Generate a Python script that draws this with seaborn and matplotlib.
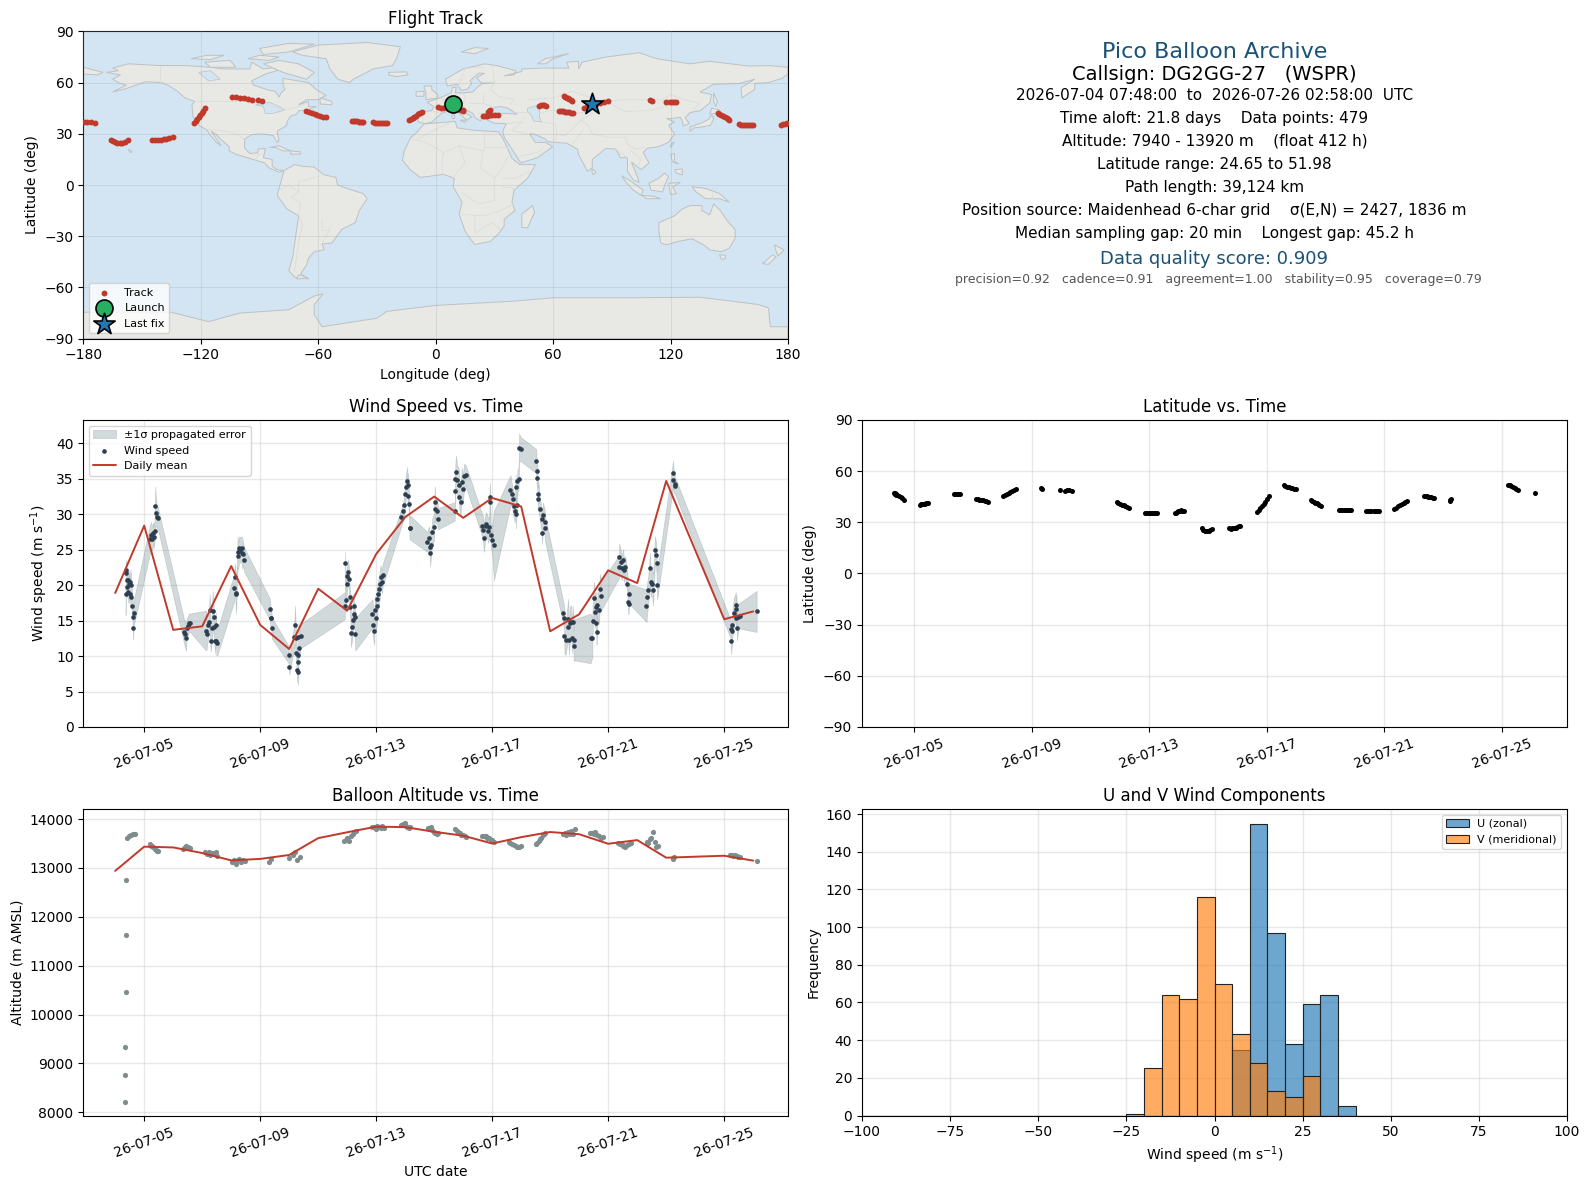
import numpy as np
import pandas as pd
import matplotlib
matplotlib.use("Agg")
import matplotlib.pyplot as plt
import matplotlib.dates as mdates
import seaborn as sns

# track fixes, one row per daylight burst (day of July 2026)
track_days = [
    4.33, 4.34, 4.35, 4.36, 4.37, 4.38, 4.42, 4.48, 4.54, 4.60, 4.67,
    5.20, 5.24, 5.28, 5.32, 5.36, 5.40, 5.45, 5.49,
    6.35, 6.40, 6.45, 6.50, 6.58,
    7.10, 7.16, 7.22, 7.28, 7.34, 7.40, 7.46, 7.52,
    8.04, 8.10, 8.16, 8.22, 8.28, 8.34, 8.40, 8.46,
    9.32, 9.36,
    9.98, 10.13, 10.20, 10.28, 10.38,
    11.89, 11.95, 12.01, 12.07, 12.13, 12.19, 12.25, 12.30,
    12.87, 12.93, 12.98, 13.04, 13.09, 13.15, 13.20, 13.26,
    13.87, 13.91, 13.95, 13.99, 14.03, 14.07, 14.12, 14.17,
    14.78, 14.83, 14.88, 14.93, 14.98, 15.03, 15.08, 15.14,
    15.72, 15.77, 15.83, 15.88, 15.94, 15.99, 16.05, 16.10,
    16.66, 16.72, 16.78, 16.83, 16.89, 16.95, 17.00, 17.06,
    17.57, 17.63, 17.69, 17.75, 17.81, 17.87, 17.94, 18.00,
    18.50, 18.55, 18.60, 18.64, 18.69, 18.74, 18.78, 18.83,
    19.44, 19.50, 19.56, 19.62, 19.68, 19.73, 19.79, 19.85,
    20.38, 20.44, 20.50, 20.56, 20.63, 20.69, 20.75, 20.81,
    21.34, 21.40, 21.46, 21.52, 21.59, 21.65, 21.71, 21.77,
    22.33, 22.38, 22.44, 22.49, 22.54, 22.60, 22.65, 22.70,
    23.22, 23.24, 23.26,
    25.21, 25.27, 25.32, 25.38, 25.43, 25.49, 25.55,
    26.12,
]
track_lat = [
    47.2, 47.0, 46.8, 46.6, 46.4, 46.2, 45.8, 45.2, 44.6, 44.0, 43.3,
    40.4, 40.5, 40.7, 40.9, 41.0, 41.1, 41.2, 41.3,
    46.4, 46.6, 46.7, 46.6, 46.5,
    43.6, 43.4, 43.2, 43.0, 42.9, 42.7, 42.4, 42.2,
    45.2, 45.8, 46.5, 47.0, 47.6, 48.2, 48.9, 49.5,
    49.9, 49.3,
    48.7, 48.6, 48.7, 48.7, 48.6,
    42.2, 41.6, 41.0, 40.4, 39.9, 39.3, 38.8, 38.3,
    35.5, 35.4, 35.4, 35.4, 35.4, 35.3, 35.4, 35.4,
    35.4, 35.7, 36.0, 36.4, 36.8, 37.0, 36.8, 36.4,
    26.6, 25.6, 25.0, 24.7, 24.7, 24.9, 25.4, 26.2,
    26.4, 26.3, 26.5, 26.6, 26.9, 27.2, 27.6, 28.0,
    36.3, 37.4, 38.6, 39.8, 41.0, 42.2, 43.6, 45.2,
    51.7, 51.3, 51.0, 50.7, 50.4, 50.1, 49.7, 49.3,
    43.2, 42.6, 42.0, 41.6, 41.1, 40.6, 40.1, 39.7,
    37.4, 37.4, 37.3, 37.3, 37.2, 37.2, 37.1, 37.1,
    36.7, 36.6, 36.6, 36.5, 36.5, 36.5, 36.4, 36.4,
    37.9, 38.6, 39.3, 40.0, 40.7, 41.4, 42.1, 42.8,
    45.6, 45.4, 45.2, 45.0, 44.8, 44.6, 44.4, 44.2,
    42.8, 43.2, 43.8,
    52.0, 51.6, 51.2, 50.8, 50.3, 49.8, 49.2,
    47.2,
]
track_lon = [
    9.0, 9.2, 9.4, 9.6, 9.8, 10.0, 10.5, 11.2, 12.0, 13.0, 14.0,
    24.0, 25.0, 26.0, 27.0, 28.0, 29.0, 30.5, 31.6,
    53.0, 53.8, 54.6, 55.4, 56.5,
    63.0, 64.0, 65.0, 66.0, 67.0, 68.0, 69.0, 70.0,
    76.0, 77.5, 79.0, 80.5, 82.0, 84.0, 86.0, 88.0,
    109.6, 110.4,
    117.8, 119.8, 120.8, 122.0, 123.0,
    144.0, 145.0, 146.0, 147.0, 147.8, 148.6, 149.4, 150.0,
    155.0, 156.0, 157.0, 158.0, 159.0, 160.0, 161.0, 162.0,
    176.5, 177.5, 178.5, 179.5, -179.5, -178.0, -176.0, -174.0,
    -166.0, -165.0, -164.0, -163.0, -161.5, -160.0, -158.5, -157.0,
    -145.0, -143.5, -142.0, -140.5, -139.0, -137.5, -136.0, -134.0,
    -123.4, -122.6, -121.8, -121.0, -120.3, -119.6, -118.8, -118.0,
    -104.0, -102.0, -100.0, -98.0, -96.0, -94.0, -91.0, -88.5,
    -66.0, -64.6, -63.2, -61.8, -60.4, -59.0, -57.5, -56.0,
    -42.6, -41.8, -41.0, -40.2, -39.4, -38.6, -37.8, -37.0,
    -32.0, -31.0, -30.0, -29.0, -28.0, -27.0, -26.0, -25.0,
    -13.6, -12.7, -11.8, -10.9, -10.0, -9.0, -8.0, -7.0,
    1.0, 2.5, 4.0, 6.0, 8.0, 10.0, 12.0, 14.0,
    26.5, 27.0, 27.6,
    65.6, 66.2, 66.9, 67.6, 68.2, 68.9, 69.6,
    80.0,
]
track_alt = [
    8220, 8760, 9340, 10470, 11630, 12760, 13620, 13660, 13680, 13700, 13700,
    13490, 13450, 13440, 13420, 13390, 13370, 13350, 13340,
    13390, 13420, 13440, 13430, 13400,
    13320, 13290, 13320, 13270, 13310, 13280, 13330, 13250,
    13130, 13170, 13080, 13160, 13190, 13120, 13170, 13140,
    13130, 13190,
    13210, 13260, 13320, 13170, 13230,
    13560, 13580, 13620, 13560, 13660, 13700, 13740, 13760,
    13840, 13830, 13800, 13850, 13830, 13820, 13860, 13810,
    13870, 13900, 13880, 13920, 13860, 13830, 13820, 13840,
    13810, 13790, 13830, 13780, 13740, 13720, 13690, 13710,
    13790, 13760, 13730, 13720, 13680, 13680, 13650, 13640,
    13650, 13660, 13650, 13620, 13610, 13570, 13580, 13540,
    13540, 13510, 13500, 13470, 13440, 13430, 13420, 13440,
    13480, 13520, 13560, 13590, 13620, 13670, 13690, 13710,
    13690, 13720, 13680, 13730, 13700, 13760, 13700, 13790,
    13710, 13720, 13690, 13740, 13680, 13650, 13620, 13630,
    13520, 13500, 13480, 13450, 13430, 13470, 13490, 13510,
    13540, 13520, 13590, 13620, 13740, 13540, 13420, 13450,
    13180, 13200, 13230,
    13270, 13260, 13250, 13260, 13240, 13220, 13230,
    13140,
]

# wind speed samples and their propagated error
wind_days = [
    4.36, 4.37, 4.38, 4.39, 4.41, 4.43, 4.45, 4.47, 4.50, 4.52, 4.54, 4.56, 4.59, 4.61, 4.62, 4.64,
    5.20, 5.24, 5.28, 5.31, 5.33, 5.36, 5.38, 5.41, 5.44, 5.47,
    6.38, 6.41, 6.44, 6.46, 6.50, 6.54, 6.58,
    7.13, 7.15, 7.21, 7.23, 7.26, 7.29, 7.33, 7.36, 7.39, 7.41, 7.44, 7.47, 7.49, 7.52,
    8.10, 8.13, 8.16, 8.18, 8.22, 8.24, 8.28, 8.32, 8.36, 8.38, 8.41, 8.45,
    9.33, 9.36, 9.38, 9.40,
    9.98, 10.00, 10.17, 10.20, 10.22, 10.25, 10.28, 10.29, 10.30, 10.31, 10.32, 10.34, 10.39,
    11.92, 11.93, 11.95, 11.98, 12.00, 12.03, 12.06, 12.08, 12.11, 12.13, 12.17, 12.20, 12.22, 12.23, 12.26, 12.28,
    12.87, 12.90, 12.93, 12.95, 12.99, 13.03, 13.04, 13.07, 13.10, 13.13, 13.15, 13.20, 13.22,
    13.87, 13.93, 13.97, 14.00, 14.02, 14.07, 14.09, 14.10, 14.13, 14.15, 14.18,
    14.76, 14.82, 14.85, 14.86, 14.89, 14.93, 14.99, 15.02, 15.03, 15.10, 15.14,
    15.71, 15.72, 15.73, 15.75, 15.79, 15.85, 15.87, 15.91, 15.95, 15.99, 16.03, 16.08,
    16.66, 16.69, 16.71, 16.77, 16.80, 16.86, 16.90, 16.91, 16.92, 16.95, 17.00, 17.06,
    17.63, 17.67, 17.70, 17.75, 17.78, 17.81, 17.82, 17.84, 17.87, 17.91, 17.93, 17.98,
    18.52, 18.53, 18.56, 18.57, 18.59, 18.64, 18.70, 18.72, 18.75, 18.81, 18.82,
    19.45, 19.48, 19.49, 19.53, 19.62, 19.63, 19.65, 19.68, 19.73, 19.76, 19.79, 19.81, 19.83,
    20.39, 20.45, 20.46, 20.51, 20.54, 20.57, 20.59, 20.60, 20.63, 20.68, 20.72, 20.76,
    21.37, 21.38, 21.43, 21.46, 21.52, 21.54, 21.59, 21.66, 21.69, 21.70, 21.72,
    22.32, 22.35, 22.38, 22.44, 22.46, 22.52, 22.55, 22.61, 22.65, 22.67, 22.69,
    23.24, 23.25, 23.29, 23.31,
    25.22, 25.24, 25.27, 25.28, 25.33, 25.40, 25.41, 25.42, 25.44, 25.48, 25.53,
    26.12,
]
wind_speed = [
    18.7, 21.7, 22.1, 20.7, 19.8, 20.8, 19.1, 20.2, 18.8, 20.5, 20.0, 18.4, 17.1, 15.5, 14.0, 16.1,
    26.5, 27.1, 26.5, 27.4, 26.8, 27.7, 31.1, 30.2, 29.6, 29.5,
    13.4, 13.1, 12.5, 13.9, 14.2, 14.7, 14.7,
    13.6, 13.1, 14.4, 14.8, 16.5, 12.2, 13.9, 16.3, 15.5, 14.1, 12.2, 14.4, 12.1, 11.9,
    19.6, 21.2, 18.8, 18.9, 24.7, 24.1, 25.2, 24.9, 25.3, 24.5, 24.4, 23.6,
    16.6, 15.4, 15.4, 14.0,
    10.2, 8.5, 12.7, 14.4, 12.5, 10.4, 8.0, 7.8, 10.2, 9.2, 12.7, 11.2, 12.8,
    17.1, 23.2, 17.9, 20.2, 21.3, 21.9, 20.9, 18.4, 16.9, 13.2, 14.1, 15.1, 17.1, 16.0, 15.5, 13.1,
    16.0, 14.4, 13.6, 16.5, 15.4, 17.1, 18.1, 18.8, 19.5, 20.2, 21.2, 20.5, 21.4,
    29.6, 30.4, 31.3, 32.9, 33.9, 34.7, 32.6, 34.1, 31.5, 28.0, 28.1,
    26.1, 26.7, 25.4, 24.5, 25.7, 27.5, 28.2, 31.8, 30.8, 30.4, 29.4,
    30.4, 33.3, 35.0, 36.0, 34.8, 34.1, 32.5, 31.8, 34.6, 33.6, 35.4, 35.5,
    28.4, 27.8, 26.7, 28.4, 28.7, 27.7, 28.2, 31.8, 32.4, 27.1, 26.4, 25.6,
    33.4, 32.8, 32.2, 31.1, 30.4, 33.8, 30.0, 31.3, 34.7, 35.0, 39.4, 39.2,
    37.5, 36.1, 35.1, 32.1, 32.9, 30.8, 29.3, 27.4, 29.9, 28.9, 28.0,
    16.1, 15.4, 12.8, 12.3, 15.3, 14.1, 12.3, 14.6, 14.8, 12.5, 14.8, 11.4, 12.3,
    12.5, 12.6, 15.0, 18.2, 16.2, 16.9, 14.6, 13.4, 17.2, 16.5, 19.4, 18.5,
    22.6, 24.0, 23.3, 22.4, 23.5, 22.1, 22.6, 20.1, 17.6, 17.3, 18.8,
    17.1, 18.4, 19.3, 22.4, 20.5, 20.2, 19.3, 25.0, 24.3, 23.1, 20.0,
    35.8, 34.9, 34.3, 34.0,
    13.8, 12.2, 13.6, 14.4, 16.1, 17.2, 15.4, 16.7, 14.0, 15.5, 15.7,
    16.3,
]
wind_sigma = [
    2.9, 1.7, 1.4, 1.6, 1.5, 1.6, 1.6, 1.8, 1.6, 1.7, 1.8, 1.6, 1.7, 1.8, 1.6, 1.8,
    2.0, 1.8, 1.6, 1.5, 1.5, 1.5, 2.8, 1.8, 1.6, 1.5,
    1.7, 1.9, 1.8, 1.4, 1.3, 1.3, 1.3,
    2.8, 2.2, 1.7, 1.6, 2.3, 1.6, 2.0, 2.9, 1.8, 1.7, 1.8, 1.8, 2.0, 1.8,
    1.9, 1.9, 2.8, 1.7, 2.2, 1.9, 1.7, 1.8, 1.6, 2.2, 1.7, 1.7,
    1.5, 1.5, 1.5, 1.5,
    1.2, 1.1, 1.6, 2.7, 2.4, 1.6, 1.6, 1.5, 1.7, 3.2, 2.0, 1.5, 1.7,
    1.9, 1.5, 1.7, 1.8, 1.8, 1.7, 1.6, 1.7, 1.8, 1.9, 1.8, 1.7, 1.8, 1.7, 1.8, 2.3,
    2.0, 2.0, 2.0, 2.0, 2.0, 2.2, 2.0, 1.9, 2.0, 2.0, 1.6, 1.6, 1.6,
    1.2, 1.3, 1.4, 1.5, 1.6, 2.0, 1.5, 1.7, 1.6, 1.5, 1.7,
    1.4, 1.6, 1.9, 1.8, 1.7, 1.8, 1.9, 2.1, 1.9, 1.8, 1.5,
    1.3, 2.0, 2.2, 2.3, 2.1, 2.3, 2.0, 1.9, 2.0, 1.9, 1.7, 1.5,
    1.6, 1.8, 2.0, 1.7, 1.6, 1.7, 1.6, 1.8, 2.0, 1.6, 2.0, 4.9,
    2.1, 1.7, 1.6, 1.7, 1.6, 1.8, 2.0, 1.5, 1.6, 1.6, 2.0, 1.7,
    1.7, 1.8, 1.8, 1.7, 1.8, 1.7, 1.6, 1.6, 1.8, 1.8, 1.8,
    1.6, 1.7, 2.5, 2.1, 2.8, 2.6, 2.0, 2.4, 2.3, 2.1, 2.3, 2.1, 2.9,
    3.5, 2.8, 2.0, 2.3, 2.2, 2.2, 1.8, 1.8, 2.0, 1.9, 2.2, 2.0,
    1.6, 1.9, 1.8, 1.7, 1.6, 1.7, 1.5, 1.5, 1.4, 1.4, 1.4,
    2.3, 2.1, 2.0, 2.2, 2.0, 1.9, 2.2, 1.9, 1.8, 1.8, 2.0,
    1.8, 1.7, 1.4, 1.2,
    1.3, 1.9, 1.7, 1.8, 2.1, 1.8, 1.7, 1.9, 1.8, 1.8, 1.8,
    2.9,
]

# daily means, no samples on the 24th
mean_days = [4, 5, 6, 7, 8, 9, 10, 11, 12, 13, 14, 15, 16, 17, 18, 19, 20, 21, 22, 23, 25, 26]
mean_wind = [18.9, 28.4, 13.7, 14.2, 22.7, 14.4, 11.0, 19.5, 16.4, 24.4, 29.6,
             32.5, 29.5, 32.3, 31.1, 13.5, 15.9, 22.1, 20.3, 34.7, 15.2, 16.3]
mean_alt = [12940, 13435, 13420, 13305, 13155, 13185, 13265, 13610, 13730, 13845, 13835,
            13740, 13660, 13500, 13630, 13735, 13690, 13495, 13570, 13210, 13250, 13150]

# histogram counts per 5 m/s bin
u_bins = [7.5, 12.5, 17.5, 22.5, 27.5, 32.5, 37.5]
u_counts = [35, 155, 97, 38, 59, 64, 5]
v_bins = [-22.5, -17.5, -12.5, -7.5, -2.5, 2.5, 7.5, 12.5, 17.5, 22.5, 27.5]
v_counts = [1, 25, 64, 62, 116, 70, 43, 28, 13, 10, 21]

# rough coastlines (lon, lat)
north_america = [(-168, 66), (-162, 67), (-165, 68.5), (-157, 71), (-141, 70), (-128, 70), (-115, 69), (-108, 68),
                 (-95, 68), (-94, 72), (-88, 68), (-82, 69), (-81, 67), (-87, 65), (-94, 61), (-93, 58.5), (-85, 55.5),
                 (-82, 55), (-80, 51.5), (-79, 54), (-77, 56), (-78, 58.5), (-78, 62.5), (-70, 61), (-65, 60),
                 (-61, 56), (-56, 52.5), (-60, 50), (-66, 50), (-70, 47), (-65, 49), (-65, 46), (-61, 46), (-66, 44),
                 (-70, 43.5), (-71, 41.5), (-74, 40.5), (-76, 37), (-76, 35), (-81, 31.5), (-80, 26), (-81, 25),
                 (-83, 29), (-89, 30), (-94, 29.5), (-97.5, 27), (-97.7, 22), (-95, 18.5), (-91, 18.8), (-90.5, 21),
                 (-87, 21.5), (-88, 16), (-83.5, 15), (-83.5, 11), (-81, 9), (-77.5, 8.5), (-80, 7.5), (-85, 10),
                 (-87.5, 13), (-92, 14.5), (-96, 16), (-102, 18), (-105.5, 20), (-105.5, 22.5), (-109, 26),
                 (-112.5, 30), (-114.7, 31.5), (-112, 27), (-109.5, 23), (-112, 25), (-115, 29), (-117, 32.5),
                 (-120.5, 34.5), (-124, 40), (-124.5, 47), (-123, 49), (-128, 51), (-132, 55), (-136, 58), (-140, 60),
                 (-148, 60.5), (-152, 59), (-158, 56.5), (-165, 54.5), (-158, 58.5), (-162, 60), (-165, 62),
                 (-161, 64.5)]
south_america = [(-77.5, 8.5), (-72, 12), (-68, 11), (-62, 10.5), (-57, 6), (-51, 4.5), (-50, 0), (-44, -2.5),
                 (-37, -5), (-35, -8), (-39, -15), (-41, -22), (-48, -26), (-53, -34), (-58, -34.5), (-57, -38),
                 (-62, -39), (-65, -43), (-66, -47), (-69, -52), (-65, -55), (-72, -54), (-75, -50), (-73, -42),
                 (-71.5, -30), (-70, -18), (-76, -14), (-81, -6), (-80, -2), (-79, 2)]
africa = [(-6, 35.8), (10, 37.3), (11, 33.5), (20, 32), (25, 31.7), (32, 31.2), (34, 28), (37, 21), (39, 15.5),
          (43, 12), (51, 12), (47, 4), (40, -3), (39, -10), (40.5, -15), (35, -20), (35, -24), (32.5, -28), (28, -33),
          (20, -34.8), (18, -32), (15, -27), (12, -17), (13.5, -10), (9, -1), (9.5, 4), (4, 6.3), (-4, 5), (-8, 4.5),
          (-13, 9), (-17, 14.5), (-16, 20), (-13, 27.5), (-9.5, 31)]
eurasia = [(-9, 37), (-9.5, 43), (-2, 43.5), (-1, 46), (-4.5, 48.5), (2, 51), (8, 54), (8.5, 57), (10.5, 57.5),
           (10, 54), (14, 54), (19, 54.5), (21, 57), (24, 59.5), (30, 60), (23, 60), (21, 63), (25, 65.5), (22, 65.5),
           (17.5, 61), (18.5, 59.5), (16, 56), (13, 55.5), (11, 59), (6, 58), (5, 62), (14, 68), (25, 71), (31, 70),
           (41, 67), (40, 64.5), (35, 64), (44, 66.5), (44, 68), (54, 68.5), (68, 68.5), (67, 72), (73, 72.5), (73, 68),
           (75, 72), (87, 75), (104, 77.5), (113, 74), (130, 71), (140, 72.5), (160, 69.7), (170, 70), (180, 69),
           (180, 65), (177, 62.5), (170, 60), (163, 59.5), (163, 56), (156.5, 51), (156, 57), (163, 62), (155, 59.5),
           (142, 59), (135, 54.5), (141, 53), (140, 48), (135, 43.5), (130, 42.5), (127.5, 39.5), (129.5, 36),
           (126.5, 34.5), (126, 37.5), (125, 39.7), (121, 39), (118, 39), (122, 37), (119, 35), (122, 30), (119, 25),
           (114, 22.5), (108, 21.5), (106, 19), (109, 13), (105, 9), (100, 13.5), (103, 5), (104, 1.5), (101, 3),
           (98, 8), (98, 16), (94.5, 16), (92, 21), (87, 21.5), (80, 15), (80, 10), (77.5, 8), (73, 18), (72.5, 21),
           (67, 24.5), (61, 25), (57, 25.5), (56, 27), (50, 30), (48, 30), (51, 25), (56, 25), (59.8, 22.5), (52, 16),
           (43.5, 13), (39, 21), (35, 28), (34.3, 31.5), (36, 36), (30, 36.2), (26.5, 38), (26.5, 40), (29, 41),
           (35, 42), (41.5, 41.5), (37, 45), (33, 46), (30, 45.5), (28, 41.8), (24, 40.8), (23, 37.5), (20, 39.5),
           (19, 42), (14, 45), (12.5, 44), (18.5, 40), (16, 38), (10.5, 43.5), (6, 43.2), (3, 42), (0, 39), (-2, 36.8),
           (-5.5, 36)]
chukotka = [(-180, 69), (-170, 66), (-173, 64.5), (-180, 65)]
greenland = [(-73, 78), (-60, 82), (-35, 83.5), (-18, 81), (-20, 74), (-22, 70), (-32, 68), (-42, 62), (-44, 60),
             (-50, 62), (-54, 68), (-56, 74), (-68, 76)]
australia = [(114, -22), (122, -18), (126, -14), (130, -12), (136, -12), (136, -15), (140, -17.5), (142, -11),
             (145.5, -15), (149, -21), (153, -26), (153, -31), (150, -37), (146, -39), (140, -38), (137, -35),
             (131, -31.5), (124, -33), (118, -35), (115, -34), (114, -27)]
antarctica = [(-180, -74.5), (-135, -74.5), (-116, -80), (-100, -75), (-75, -73), (-62, -65), (-57.5, -63.7), (-62, -70),
              (-62, -76), (-58, -83), (-30, -78), (-25, -74), (0, -70.5), (40, -68), (60, -66), (100, -66), (135, -65.7),
              (165, -70), (170, -72), (171, -83), (180, -83), (180, -90), (-180, -90)]
islands = [
    [(-80, 73), (-70, 71), (-62, 66), (-66, 62), (-72, 64), (-78, 66), (-88, 71)],  # Baffin
    [(-90, 80), (-75, 83), (-62, 82.5), (-75, 78), (-88, 76.5)],  # Ellesmere
    [(-118, 72), (-105, 73), (-102, 69), (-115, 69)],  # Victoria
    [(-125, 74), (-117, 76), (-108, 76), (-115, 73.5)],
    [(-96, 74), (-90, 76), (-80, 75), (-85, 73)],
    [(-59, 51), (-53, 49), (-53, 47), (-59, 47.5)],  # Newfoundland
    [(-24, 66), (-15, 66.3), (-14, 64.5), (-20, 63.5), (-24, 64.5)],  # Iceland
    [(-5, 50), (1, 51), (1, 53), (-2, 56), (-2, 58), (-6, 58), (-5, 54), (-5, 52)],  # Britain
    [(-10, 52), (-6, 52), (-6, 55), (-10, 54.5)],  # Ireland
    [(13, 78), (20, 80.5), (27, 80), (20, 77)],  # Svalbard
    [(52, 71), (56, 74), (68, 77), (60, 74), (56, 71)],  # Novaya Zemlya
    [(142, 54), (144, 49), (143, 46), (142, 49)],  # Sakhalin
    [(141, 45), (145, 44), (143, 42), (140, 41.5)],  # Hokkaido
    [(141, 41), (142, 39), (140.5, 35), (136, 34), (132, 33.5), (130, 31.5), (130, 34), (136, 36.5), (139.5, 38.5)],  # Honshu
    [(120, 22), (122, 25), (121, 25), (120, 23)],  # Taiwan
    [(80, 9.5), (82, 7.5), (80.5, 6), (79.8, 8)],  # Sri Lanka
    [(95, 5.5), (100, 2), (106, -3), (105, -6), (101, -3), (97, 2)],  # Sumatra
    [(105, -6), (111, -6.5), (115, -8), (108, -8)],  # Java
    [(109, 1), (114, 4), (117, 7), (119, 5), (117, 0), (116, -4), (110, -3)],  # Borneo
    [(119, 1), (125, 1.5), (121, -1), (123, -5), (120, -5.5)],  # Sulawesi
    [(120, 18), (122, 18.5), (122, 14), (124, 12.5), (121, 13.5)],  # Luzon
    [(122, 9), (126, 9.5), (126, 6), (123, 7)],  # Mindanao
    [(131, -1), (138, -2), (145, -5), (150, -10), (145, -8), (138, -8), (133, -4)],  # New Guinea
    [(145, -41), (148, -41), (148, -43), (146, -43.5)],  # Tasmania
    [(173, -35), (178, -38), (175, -41.5), (174, -39)],  # NZ north
    [(172, -41), (174, -42), (170, -46.5), (167, -46)],  # NZ south
    [(49.5, -12), (50.5, -16), (47, -25), (44, -25), (44, -17)],  # Madagascar
    [(-85, 22), (-80, 23), (-74, 20), (-78, 20), (-82, 22)],  # Cuba
    [(-74, 20), (-69, 19.5), (-69, 18.3), (-74, 18)],  # Hispaniola
    [(-157, 21), (-155.5, 20), (-155, 19.5), (-156, 19)],  # Hawaii
    [(-70, -52.5), (-65, -54.5), (-71, -55)],  # Tierra del Fuego
    [(8.3, 41), (9.7, 41), (9.6, 39), (8.5, 39)],  # Sardinia
    [(12.5, 38), (15.5, 38), (15, 36.7)],  # Sicily
]
caspian = [(47, 45), (53, 47), (53, 40), (54, 37), (50, 37.5), (49, 40.5), (47, 43)]
lakes = [[(-92, 47), (-85, 48.5), (-80, 46), (-77, 44), (-83, 42), (-87, 42), (-88, 46)],
         [(-121, 66), (-115, 67), (-110, 62), (-116, 61)]]
borders = [
    [(-141, 70), (-141, 60)], [(-123, 49), (-95, 49), (-88, 48), (-83, 46), (-76, 44), (-70, 46), (-67, 47)],
    [(-117, 32.5), (-106, 31.5), (-101, 29.5), (-97.5, 26)], [(-92, 14.5), (-91, 17.5), (-89, 18)],
    [(-70, -18), (-68, -23), (-70, -33), (-72, -50)], [(-70, -18), (-69, -11), (-74, -7), (-70, -4), (-70, 2), (-60, 5)],
    [(-58, -20), (-58, -27), (-54, -26), (-58, -34)], [(-80, -3), (-75, 0), (-70, -4)],
    [(-9, 27), (-1, 32), (8, 37)], [(-13, 27), (-5, 25), (4, 19), (12, 23), (25, 20), (25, 31.7)],
    [(25, 22), (37, 22)], [(4, 19), (3, 12), (4, 6)], [(12, 23), (15, 13), (9, 4.5)], [(24, 20), (23, 10), (30, 4), (34, 10), (37, 17)],
    [(14, -5), (22, -11), (30, -9), (30, 4)], [(12, -17), (25, -18), (33, -15), (40, -11)], [(20, -18), (20, -28), (29, -22), (33, -26)],
    [(34, -1), (41, -2)], [(34, 4), (41, 4), (48, 8)],
    [(-1, 43), (3, 42.5)], [(-7, 37), (-7, 42)], [(2, 51), (8, 48), (7, 44)], [(7, 54), (7, 48), (14, 48), (15, 51), (14, 54)],
    [(24, 54), (24, 48), (17, 48)], [(24, 48), (30, 45.5)], [(21, 42), (28, 42)], [(24, 60), (30, 60), (29, 70)], [(12, 59), (15, 68), (20, 69), (25, 69)],
    [(30, 60), (28, 56), (32, 52), (40, 50), (38, 47)], [(47, 43), (40, 43)], [(47, 50), (60, 51), (70, 55), (80, 51), (87, 49), (97, 50), (107, 50), (116, 50), (120, 53), (127, 50), (135, 48), (131, 43)],
    [(53, 42), (60, 44), (70, 42), (80, 43), (80, 42), (74, 38)], [(87, 49), (97, 43), (111, 44), (120, 47), (116, 50)],
    [(74, 38), (78, 35), (80, 30), (88, 28), (97, 28), (98, 24), (102, 21), (107, 22)], [(61, 25), (62, 30), (61, 36), (53, 37)], [(74, 38), (70, 33), (66, 29), (61, 30)], [(70, 24), (75, 32)],
    [(44, 37), (39, 32), (48, 29.5)], [(36, 36), (44, 37), (45, 39)], [(43.5, 17), (52, 19), (55, 22)], [(92, 21), (98, 16)], [(100, 20), (105, 15), (103, 11)], [(141, -2), (141, -9)],
]

# info panel text
pico_title = "Pico Balloon Archive"
callsign_line = "Callsign: DG2GG-27   (WSPR)"
info_lines = ["2026-07-04 07:48:00  to  2026-07-26 02:58:00  UTC",
              "Time aloft: 21.8 days    Data points: 479",
              "Altitude: 7940 - 13920 m    (float 412 h)",
              "Latitude range: 24.65 to 51.98",
              "Path length: 39,124 km",
              "Position source: Maidenhead 6-char grid    \u03c3(E,N) = 2427, 1836 m",
              "Median sampling gap: 20 min    Longest gap: 45.2 h"]
score_line = "Data quality score: 0.909"
score_detail = "precision=0.92   cadence=0.91   agreement=1.00   stability=0.95   coverage=0.79"

sns.set_theme(style="ticks", rc={
    "font.size": 10, "axes.titlesize": 12, "axes.labelsize": 10,
    "xtick.labelsize": 10, "ytick.labelsize": 10, "legend.fontsize": 8,
    "axes.edgecolor": "black", "axes.linewidth": 0.8, "xtick.color": "black", "ytick.color": "black",
    "xtick.major.width": 0.8, "ytick.major.width": 0.8, "xtick.major.size": 3.5, "ytick.major.size": 3.5,
    "text.color": "black", "axes.labelcolor": "black",
})
plt.rcParams["font.family"] = ["DejaVu Sans"]

W, H = 1590, 1189
fig = plt.figure(figsize=(W / 100, H / 100), dpi=100)


def px_axes(left, top, right, bottom):
    return fig.add_axes([left / W, 1 - bottom / H, (right - left) / W, (bottom - top) / H])


def to_dates(days):
    return pd.Timestamp("2026-07-01") + pd.to_timedelta(np.asarray(days) - 1, unit="D")


def date_axis(ax, left, right):
    ax.set_xlim(to_dates([left])[0], to_dates([right])[0])
    ax.set_xticks(to_dates([5, 9, 13, 17, 21, 25]))
    ax.xaxis.set_major_formatter(mdates.DateFormatter("%y-%m-%d"))
    ax.tick_params(axis="x", labelrotation=20)
    ax.grid(True, alpha=0.45)
    ax.set_xlabel("")


ocean = "#d3e5f2"
land = "#e8e8e4"
coast = "#bcc2c4"
red = "#c0392b"

# map
ax_map = px_axes(83.3, 31.4, 788, 338.7)
ax_map.set_facecolor(ocean)
for poly in [north_america, south_america, africa, eurasia, chukotka, greenland, australia, antarctica] + islands:
    xs, ys = zip(*poly)
    ax_map.fill(xs, ys, facecolor=land, edgecolor=coast, lw=0.7, zorder=1)
for poly in [caspian] + lakes:
    xs, ys = zip(*poly)
    ax_map.fill(xs, ys, facecolor=ocean, edgecolor=coast, lw=0.5, zorder=1.1)
for line in borders:
    xs, ys = zip(*line)
    ax_map.plot(xs, ys, color="#dcdcd8", lw=0.6, zorder=1.2)
sns.scatterplot(x=track_lon, y=track_lat, s=18, color=red, linewidth=0, label="Track", ax=ax_map, zorder=3)
sns.scatterplot(x=track_lon[:1], y=track_lat[:1], s=150, color="#27ae60", edgecolor="black", linewidth=1.2,
                label="Launch", ax=ax_map, zorder=4)
sns.scatterplot(x=track_lon[-1:], y=track_lat[-1:], s=260, marker="*", color="#1f77b4", edgecolor="black", linewidth=1.2,
                label="Last fix", ax=ax_map, zorder=4)
ax_map.set_xlim(-180, 180)
ax_map.set_ylim(-90, 90)
ax_map.set_xticks(range(-180, 181, 60))
ax_map.set_yticks(range(-90, 91, 30))
ax_map.set_xticklabels(["\u2212180", "\u2212120", "\u221260", "0", "60", "120", "180"])
ax_map.set_yticklabels(["\u221290", "\u221260", "\u221230", "0", "30", "60", "90"])
ax_map.grid(True, color="#9aa5ab", alpha=0.25, lw=0.7, zorder=2)
ax_map.set_axisbelow(False)
ax_map.set_xlabel("Longitude (deg)")
ax_map.set_ylabel("Latitude (deg)")
ax_map.set_title("Flight Track", pad=5)
ax_map.legend(loc="lower left", fontsize=8)

# info text
ax_info = px_axes(862, 0, 1567, 338.7)
ax_info.axis("off")
ax_info.set_xlim(0, 1)
ax_info.set_ylim(338.7, 0)
ax_info.text(0.5, 52, pico_title, ha="center", va="center", fontsize=16, color="#1a5276")
ax_info.text(0.5, 74.5, callsign_line, ha="center", va="center", fontsize=14)
for y_txt, line in zip([95.5, 118.5, 141, 164, 187.5, 210, 233.5], info_lines):
    ax_info.text(0.5, y_txt, line, ha="center", va="center", fontsize=11)
ax_info.text(0.5, 258.5, score_line, ha="center", va="center", fontsize=13, color="#1a5276")
ax_info.text(0.506, 279, score_detail, ha="center", va="center", fontsize=9, color="#555555")

# wind
wind_dates = to_dates(wind_days)
lower = np.array(wind_speed) - np.array(wind_sigma)
upper = np.array(wind_speed) + np.array(wind_sigma)
ax_wind = px_axes(83.3, 420, 788, 727)
ax_wind.fill_between(wind_dates, lower, upper, color="#7f9296", alpha=0.35, linewidth=0.5, label="\u00b11\u03c3 propagated error")
sns.scatterplot(x=wind_dates, y=wind_speed, s=11, color="#2c3e50", linewidth=0, label="Wind speed", ax=ax_wind, zorder=3)
sns.lineplot(x=to_dates(mean_days), y=mean_wind, estimator=None, color=red, lw=1.4, label="Daily mean", ax=ax_wind, zorder=4)
date_axis(ax_wind, 2.9, 27.2)
ax_wind.set_ylim(0, 43.3)
ax_wind.set_yticks(range(0, 41, 5))
ax_wind.set_ylabel("Wind speed (m s$^{-1}$)")
ax_wind.set_title("Wind Speed vs. Time")
ax_wind.legend(loc="upper left", fontsize=8)

# latitude
track_dates = to_dates(track_days)
ax_lat = px_axes(862, 420, 1567, 727)
sns.scatterplot(x=track_dates, y=track_lat, s=13, color="black", linewidth=0, ax=ax_lat)
date_axis(ax_lat, 3.23, 27.21)
ax_lat.set_ylim(-90, 90)
ax_lat.set_yticks(range(-90, 91, 30))
ax_lat.set_yticklabels(["\u221290", "\u221260", "\u221230", "0", "30", "60", "90"])
ax_lat.set_ylabel("Latitude (deg)")
ax_lat.set_title("Latitude vs. Time")

# altitude
ax_alt = px_axes(83.3, 809, 788, 1115.5)
sns.scatterplot(x=track_dates, y=track_alt, s=14, color="#7f8c8d", linewidth=0, ax=ax_alt)
sns.lineplot(x=to_dates(mean_days), y=mean_alt, estimator=None, color=red, lw=1.4, ax=ax_alt, zorder=4)
date_axis(ax_alt, 2.9, 27.2)
ax_alt.set_ylim(7936, 14206)
ax_alt.set_yticks(range(8000, 14001, 1000))
ax_alt.set_xlabel("UTC date")
ax_alt.set_ylabel("Altitude (m AMSL)")
ax_alt.set_title("Balloon Altitude vs. Time")

# u/v histogram
edges = list(range(-100, 105, 5))
ax_hist = px_axes(862, 809, 1567, 1115.5)
sns.histplot(x=u_bins, weights=u_counts, bins=edges, color="#1f77b4", alpha=0.65, edgecolor="#222222", linewidth=0.8,
             label="U (zonal)", ax=ax_hist)
sns.histplot(x=v_bins, weights=v_counts, bins=edges, color="#ff7f0e", alpha=0.65, edgecolor="#222222", linewidth=0.8,
             label="V (meridional)", ax=ax_hist)
ax_hist.set_xlim(-100, 100)
ax_hist.set_ylim(0, 162.7)
ax_hist.set_xticks(range(-100, 101, 25))
ax_hist.set_xticklabels(["\u2212100", "\u221275", "\u221250", "\u221225", "0", "25", "50", "75", "100"])
ax_hist.grid(True, alpha=0.45)
ax_hist.set_axisbelow(True)
ax_hist.set_xlabel("Wind speed (m s$^{-1}$)")
ax_hist.set_ylabel("Frequency")
ax_hist.set_title("U and V Wind Components")
ax_hist.legend(loc="upper right", fontsize=8)

fig.savefig("out.png", dpi=100)
